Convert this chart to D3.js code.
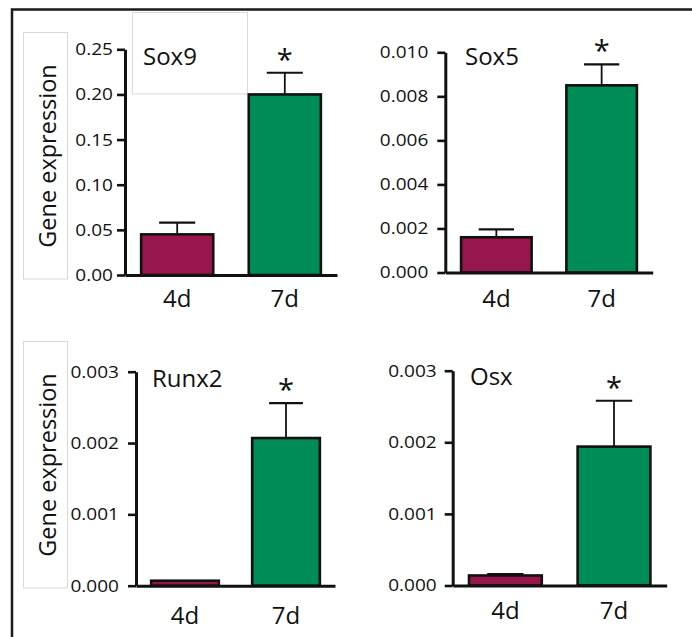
<!DOCTYPE html>
<html>
<head>
<meta charset="utf-8">
<script src="https://cdn.jsdelivr.net/npm/d3@7"></script>
<style>
  html, body { margin: 0; padding: 0; background: #fff; }
  svg { display: block; font-family: "Open Sans", sans-serif; }
</style>
</head>
<body>
<svg id="chart" width="692" height="637"></svg>
<script>
// ---- data ----
const categories = ["4d", "7d"];
const genes = ["Sox9", "Sox5", "Runx2", "Osx"];
const sox9Means = [0.045, 0.200];
const sox9Sem = [0.013, 0.024];
const sox5Means = [0.0016, 0.0085];
const sox5Sem = [0.00036, 0.00095];
const runx2Means = [0.00007, 0.00207];
const runx2Sem = [0.0, 0.00049];
const osxMeans = [0.00014, 0.00194];
const osxSem = [0.00002, 0.00064];
const sox9Ticks = [0, 0.05, 0.10, 0.15, 0.20, 0.25];
const sox5Ticks = [0, 0.002, 0.004, 0.006, 0.008, 0.010];
const runx2Ticks = [0, 0.001, 0.002, 0.003];
const osxTicks = [0, 0.001, 0.002, 0.003];
const significant = [false, true];
const yTitle = "Gene expression";

// ---- layout (positions / styles) ----
const colors = ["#97174c", "#008c56"];
const tickStretch = 1.12;
const panels = [
  {gene: genes[0], means: sox9Means, sem: sox9Sem, ticks: sox9Ticks, fmt: ".2f",
   ax: 125, xEnd: 337, yTop: 49.3, yZero: 275, tickPad: 4, labelOff: 32,
   titleX: 143, titleY: 65, yTitleBox: [23.5, 32.5, 44, 246.5], titleBox: [132.5, 12.5, 115, 81.5], yTitleY: 156},
  {gene: genes[1], means: sox5Means, sem: sox5Sem, ticks: sox5Ticks, fmt: ".3f",
   ax: 445.3, xEnd: 652.7, yTop: 52.3, yZero: 272.5, tickPad: 9, labelOff: 34,
   titleX: 465, titleY: 65},
  {gene: genes[2], means: runx2Means, sem: runx2Sem, ticks: runx2Ticks, fmt: ".3f",
   ax: 136, xEnd: 335, yTop: 371.7, yZero: 585.7, tickPad: 9, labelOff: 38,
   titleX: 152, titleY: 387, yTitleBox: [23.5, 341.5, 44, 246.5], yTitleY: 465},
  {gene: genes[3], means: osxMeans, sem: osxSem, ticks: osxTicks, fmt: ".3f",
   ax: 452.7, xEnd: 666.7, yTop: 370.7, yZero: 585.5, tickPad: 8, labelOff: 33,
   titleX: 470, titleY: 385}
];

const svg = d3.select("#chart");

// outer frame (left + top lines)
svg.append("path")
  .attr("d", "M12,637 L12,9.5 L692,9.5")
  .attr("fill", "none").attr("stroke", "#1a1a1a").attr("stroke-width", 2.5);

panels.forEach(p => {
  const g = svg.append("g");

  // light grey boxes
  if (p.titleBox) {
    g.append("rect").attr("x", p.titleBox[0]).attr("y", p.titleBox[1])
      .attr("width", p.titleBox[2]).attr("height", p.titleBox[3])
      .attr("fill", "#fff").attr("stroke", "#d9d9d9").attr("stroke-width", 1);
  }
  if (p.yTitleBox) {
    g.append("rect").attr("x", p.yTitleBox[0]).attr("y", p.yTitleBox[1])
      .attr("width", p.yTitleBox[2]).attr("height", p.yTitleBox[3])
      .attr("fill", "#fff").attr("stroke", "#d9d9d9").attr("stroke-width", 1);
    g.append("text")
      .attr("transform", `translate(55.5,${p.yTitleY}) rotate(-90)`)
      .attr("text-anchor", "middle")
      .attr("font-size", 23.5).attr("fill", "#111")
      .text(yTitle);
  }

  const y = d3.scaleLinear()
    .domain([0, p.ticks[p.ticks.length - 1]])
    .range([p.yZero, p.yTop]);
  const x = d3.scaleBand()
    .domain(categories)
    .range([p.ax, p.xEnd])
    .paddingInner(0.33).paddingOuter(0.15);

  const bw = x.bandwidth();
  const data = categories.map((c, i) => ({c, m: p.means[i], e: p.sem[i], i}));

  // error bars (upward)
  data.forEach(d => {
    if (d.e > 0) {
      const cx = x(d.c) + bw / 2;
      g.append("line").attr("x1", cx).attr("x2", cx)
        .attr("y1", y(d.m)).attr("y2", y(d.m + d.e))
        .attr("stroke", "#111").attr("stroke-width", 1.8);
      g.append("line").attr("x1", cx - bw / 4).attr("x2", cx + bw / 4)
        .attr("y1", y(d.m + d.e)).attr("y2", y(d.m + d.e))
        .attr("stroke", "#111").attr("stroke-width", 2.2);
    }
  });

  g.selectAll("rect.bar").data(data).join("rect")
    .attr("class", "bar")
    .attr("x", d => x(d.c))
    .attr("y", d => y(d.m))
    .attr("width", bw)
    .attr("height", d => y(0) - y(d.m))
    .attr("fill", d => colors[d.i])
    .attr("stroke", "#111").attr("stroke-width", 2.6);

  // significance stars
  data.forEach(d => {
    if (significant[d.i]) {
      g.append("text")
        .attr("x", x(d.c) + bw / 2)
        .attr("y", y(d.m + d.e) - 3)
        .attr("text-anchor", "middle")
        .attr("font-size", 29).attr("fill", "#111")
        .text("*");
    }
  });

  // y axis
  const yAxis = d3.axisLeft(y).tickValues(p.ticks)
    .tickFormat(d3.format(p.fmt)).tickSize(8).tickSizeOuter(0).tickPadding(p.tickPad);
  const ya = g.append("g").attr("transform", `translate(${p.ax},0)`).call(yAxis);
  ya.select(".domain").attr("stroke", "#111").attr("stroke-width", 3);
  ya.selectAll(".tick line").attr("stroke", "#111").attr("stroke-width", 2.6);
  ya.selectAll(".tick text").attr("font-size", 17).attr("fill", "#111")
    .attr("font-family", "'Open Sans', sans-serif")
    .attr("x", -(8 + p.tickPad) / tickStretch)
    .attr("transform", `scale(${tickStretch},1)`);

  // x axis
  const xAxis = d3.axisBottom(x).tickSize(0).tickSizeOuter(0).tickPadding(0);
  const xa = g.append("g").attr("transform", `translate(0,${p.yZero})`).call(xAxis);
  xa.select(".domain").attr("stroke", "#111").attr("stroke-width", 3);
  xa.selectAll(".tick text")
    .attr("y", p.labelOff).attr("dy", 0)
    .attr("font-size", 24).attr("fill", "#111")
    .attr("font-family", "'Open Sans', sans-serif");

  // gene title
  g.append("text").attr("x", p.titleX).attr("y", p.titleY)
    .attr("font-size", 24).attr("fill", "#111")
    .text(p.gene);
});
</script>
</body>
</html>
